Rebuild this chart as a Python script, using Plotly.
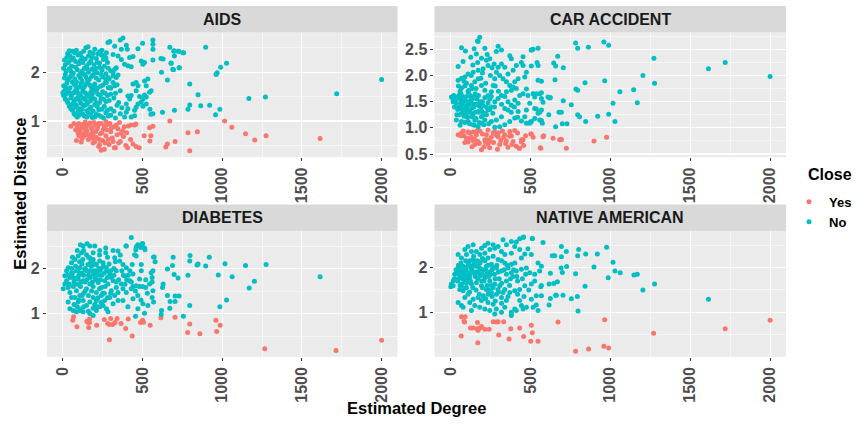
import plotly.graph_objects as go

# ---------------- data (degree, distance) ----------------
PANELS = ["AIDS", "CAR ACCIDENT", "DIABETES", "NATIVE AMERICAN"]
X_TICKS = [0, 500, 1000, 1500, 2000]

AIDS_NO = [
    (60,2.43),(85,2.45),(144,2.50),(158,2.52),(170,2.41),(110,2.38),(40,2.44),(200,2.47),(230,2.42),
    (25,2.30),(45,2.33),(65,2.29),(95,2.35),(120,2.30),(140,2.27),(160,2.33),(185,2.30),(210,2.28),(240,2.36),(255,2.26),(220,2.37),
    (15,2.15),(35,2.20),(55,2.12),(80,2.22),(100,2.17),(125,2.20),(150,2.13),(175,2.23),(195,2.15),(230,2.19),(260,2.12),(280,2.20),(205,2.08),
    (20,2.02),(40,2.07),(65,1.98),(90,2.05),(110,1.97),(135,2.08),(160,2.00),(180,2.06),(215,1.99),(245,2.04),(270,1.97),(300,2.03),
    (10,1.88),(30,1.83),(50,1.92),(75,1.86),(100,1.93),(120,1.82),(145,1.90),(165,1.85),(190,1.94),(225,1.84),(250,1.90),(290,1.86),(315,1.92),
    (5,1.72),(25,1.78),(45,1.68),(70,1.75),(90,1.66),(115,1.77),(135,1.70),(155,1.79),(180,1.68),(200,1.76),(235,1.71),(265,1.78),(300,1.67),(340,1.74),
    (0,1.58),(10,1.62),(20,1.55),(35,1.60),(55,1.52),(80,1.63),(100,1.56),(125,1.61),(150,1.53),(175,1.59),(195,1.64),(220,1.55),(250,1.60),(280,1.52),(330,1.57),(360,1.62),
    (15,1.45),(30,1.38),(50,1.47),(70,1.40),(95,1.48),(115,1.36),(140,1.44),(160,1.39),(185,1.47),(210,1.37),(240,1.45),(270,1.40),(320,1.47),(350,1.38),
    (40,1.30),(60,1.22),(85,1.33),(105,1.25),(130,1.31),(150,1.21),(175,1.28),(200,1.34),(225,1.23),(260,1.30),(300,1.25),(340,1.32),(370,1.27),
    (70,1.15),(90,1.08),(110,1.18),(135,1.10),(160,1.16),(185,1.07),(210,1.14),(240,1.09),(270,1.17),(300,1.12),(330,1.06),(360,1.15),
    (30,2.38),(75,2.40),(130,2.43),(190,2.38),(245,2.45),(10,2.25),(50,2.25),(110,2.24),(165,2.18),(215,2.20),(270,2.27),
    (5,2.08),(50,2.02),(80,2.10),(120,2.02),(150,2.07),(200,2.02),(230,2.10),(285,2.08),
    (15,1.95),(40,1.88),(60,1.95),(85,1.80),(110,1.88),(135,1.95),(155,1.84),(180,1.91),(210,1.88),(240,1.95),(270,1.85),
    (15,1.70),(35,1.66),(60,1.80),(80,1.72),(105,1.70),(125,1.66),(145,1.75),(170,1.73),(190,1.70),(215,1.67),(250,1.73),(285,1.68),
    (5,1.52),(45,1.57),(65,1.58),(90,1.58),(110,1.52),(140,1.58),(165,1.50),(185,1.56),(210,1.61),(235,1.52),(265,1.57),(300,1.55),
    (25,1.42),(60,1.35),(80,1.45),(105,1.42),(125,1.47),(150,1.35),(175,1.42),(200,1.45),(230,1.38),(255,1.45),(290,1.42),
    (50,1.25),(75,1.28),(95,1.20),(120,1.24),(140,1.33),(165,1.24),(190,1.20),(215,1.30),(245,1.24),(280,1.22),(320,1.20),
    (80,1.12),(100,1.12),(125,1.14),(150,1.08),(175,1.12),(200,1.08),(225,1.12),(255,1.06),(285,1.10),
    (377,2.70),(360,2.66),(294,2.63),(283,2.61),(325,2.53),(398,2.55),(404,2.47),(367,2.47),(315,2.36),(346,2.33),(273,2.40),(269,2.30),(248,2.34),
    (471,2.48),(440,2.32),(419,2.30),(367,2.26),(502,2.16),(512,2.20),(492,2.23),(408,2.13),(387,2.16),(429,2.11),(335,2.09),(325,2.06),(315,1.99),
    (346,1.94),(335,1.89),(315,1.79),(325,1.72),(283,1.89),(273,1.79),(294,1.69),
    (440,1.76),(460,1.79),(471,1.72),(512,1.82),(533,1.86),(460,1.62),(429,1.52),(408,1.51),(419,1.45),(481,1.50),(512,1.53),(502,1.45),(523,1.49),
    (492,1.39),(502,1.30),(523,1.35),(544,1.59),(554,1.62),(523,1.72),
    (398,1.35),(408,1.25),(450,1.22),(460,1.28),(471,1.35),(398,1.18),(450,1.11),(429,1.08),(387,1.08),(565,1.15),(700,1.22),
    (696,2.43),(700,2.33),(727,2.43),(752,2.40),(679,2.18),(731,2.09),(690,2.06),
    (2000,1.85),(1718,1.56),(1271,1.49),(1167,1.46),(1027,2.18),(990,2.10),(968,1.99),(962,1.95),(896,2.51),(985,1.24),(958,1.13),(921,1.32),
    (865,1.31),(848,1.54),(796,1.76),(796,1.33),(785,1.24),(758,2.40),(729,2.09),(723,2.43),(698,2.44),(671,2.51),(679,2.19),(694,2.05),
    (656,1.84),(619,2.00),(615,2.28),(629,2.27),(625,1.18),(565,2.66),(565,2.57),(565,2.47),(565,2.25),(500,2.59),(552,1.14),(546,1.24),
]
AIDS_YES = [
    (50,0.89),(80,0.82),(85,0.60),(100,0.95),(110,0.75),(120,0.88),(130,0.68),(140,0.98),(150,0.80),(160,0.62),(165,0.92),(175,0.72),
    (180,0.85),(190,0.55),(195,0.97),(205,0.78),(210,0.66),(220,0.90),(225,0.48),(235,0.74),(240,0.95),(250,0.60),(255,0.83),(260,0.42),
    (270,0.70),(280,0.93),(290,0.52),(300,0.78),(310,0.65),(320,0.88),(330,0.45),(340,0.72),(355,0.97),(360,0.58),(375,0.80),(380,0.68),
    (395,0.50),(410,0.90),(425,0.62),(440,0.53),(450,0.92),(460,0.48),(100,0.70),(130,0.85),(200,0.92),(230,0.62),(270,0.99),(150,0.93),
    (180,0.65),(115,0.57),(240,0.40),(323,0.45),(406,0.45),(479,0.45),(458,0.94),(427,0.92),(510,0.70),
    (70,0.95),(90,0.88),(105,0.82),(125,0.93),(135,0.76),(145,0.86),(155,0.72),(170,0.96),(185,0.78),(195,0.68),(215,0.84),(225,0.95),
    (245,0.76),(260,0.90),(275,0.82),(285,0.62),(295,0.95),(305,0.86),(315,0.58),(335,0.92),(345,0.84),(365,0.75),(385,0.88),(400,0.76),
    (120,0.64),(200,0.58),(230,0.52),(265,0.55),(350,0.55),(95,0.76),
    (1614,0.64),(1275,0.70),(1204,0.61),(1146,0.74),(1060,0.87),(1015,1.00),(844,0.78),(785,0.76),(796,0.39),(704,0.58),(671,1.00),
    (656,0.53),(646,0.47),(565,0.89),(544,0.86),(552,0.70),(546,0.59),
]

CAR_NO = [
    (183,2.73),(169,2.66),(173,2.65),(69,2.53),(94,2.47),(148,2.51),(215,2.52),(298,2.56),(287,2.46),(319,2.49),(371,2.38),(381,2.32),
    (454,2.36),(506,2.49),(548,2.52),
    (48,2.17),(79,2.27),(127,2.35),(162,2.41),(194,2.33),(225,2.29),(246,2.32),(273,2.22),(235,2.19),(204,2.13),(173,2.10),(142,2.06),
    (110,2.03),(90,1.97),(85,1.89),(69,1.76),(48,1.91),(52,1.62),(27,1.59),(6,1.59),(17,1.50),(37,1.47),(58,1.37),(79,1.34),(100,1.28),
    (131,1.21),(152,1.15),(110,1.12),(69,1.12),(37,1.15),(142,1.06),(173,1.02),(194,1.09),(215,1.15),(256,1.12),(287,1.15),(319,1.21),
    (340,1.37),(360,1.34),(381,1.43),(402,1.53),(423,1.47),(433,1.62),(454,1.65),(475,1.74),(412,1.75),(392,1.78),(371,1.81),(350,1.88),
    (329,1.94),(308,2.00),(360,2.03),(392,2.10),(412,2.19),(444,2.25),(454,2.19),(475,2.06),(465,1.97),(423,1.94),(402,1.88),(381,1.72),
    (350,1.69),(319,1.62),(298,1.56),(277,1.50),(256,1.40),(235,1.34),(215,1.28),(194,1.21),(173,1.31),(152,1.43),(131,1.56),(110,1.69),
    (131,1.81),(152,1.88),(173,1.94),(194,1.81),(215,1.72),(235,1.62),(256,1.69),(267,1.81),(277,1.94),(287,2.06),(298,2.16),(319,2.22),
    (340,2.16),(485,1.62),(496,1.47),(527,1.37),(548,1.28),(569,1.34),(475,1.34),(465,1.21),(423,1.31),(402,1.19),(371,1.12),(340,1.06),
    (308,1.02),(277,1.01),(444,1.13),(475,1.09),(506,1.12),(527,1.18),(558,1.15),(527,1.59),(537,1.65),(569,1.56),(610,1.59),
    (60,1.55),(75,1.45),(90,1.52),(105,1.40),(120,1.50),(135,1.38),(150,1.45),(165,1.55),(180,1.42),(100,1.60),(125,1.62),(140,1.25),
    (160,1.18),(85,1.22),(70,1.28),(110,1.33),(95,1.42),(130,1.48),(145,1.58),(175,1.30),(190,1.40),(200,1.50),(55,1.40),(40,1.58),
    (30,1.52),(20,1.62),(115,1.72),(135,1.75),(90,1.80),(155,1.65),(65,1.65),(205,1.25),(225,1.40),(245,1.55),
    (45,1.35),(55,1.25),(65,1.48),(75,1.60),(85,1.52),(95,1.35),(105,1.20),(115,1.45),(125,1.30),(135,1.55),(145,1.40),(155,1.30),
    (165,1.45),(175,1.62),(185,1.50),(195,1.32),(205,1.42),(215,1.58),(225,1.25),(235,1.48),(245,1.35),(255,1.60),(265,1.28),(275,1.40),
    (60,1.05),(90,1.10),(120,1.08),(150,1.05),(180,1.10),(210,1.06),(240,1.08),(100,1.85),(130,2.00),(160,1.75),(190,1.95),(220,1.85),
    (250,2.00),(280,1.80),(300,1.70),(320,1.45),(340,1.60),(360,1.50),(380,1.30),(400,1.40),(420,1.20),(140,2.20),(170,2.25),(200,2.05),
    (230,2.40),(260,2.15),(110,1.50),(80,1.40),(60,1.70),(40,1.25),(25,1.40),(15,1.55),(50,1.80),(70,1.95),
    (2000,1.98),(1719,2.25),(1614,2.13),(1273,2.33),(1277,1.85),(1204,2.00),(1169,1.48),(1146,1.73),(1060,1.69),(1017,1.47),(1029,1.12),
    (990,1.26),(965,1.90),(960,2.64),(990,2.58),(921,1.22),(863,2.54),(842,1.86),(846,1.12),(796,2.52),(783,2.62),(785,1.74),(796,1.72),
    (796,1.25),(808,1.21),(756,1.44),(729,1.08),(700,1.08),(706,1.52),(706,2.15),(671,2.37),(646,2.24),(658,2.18),(654,1.92),(658,1.02),
    (679,1.30),(694,1.30),(621,1.57),(625,1.58),(615,1.25),(575,1.09),(569,1.89),(548,1.91),(517,2.50),(506,2.49),(548,2.19),(542,2.25),
    (506,2.18),(517,1.65),(558,1.65),(569,1.67),(579,1.49),(558,1.30),(537,1.36),(569,1.14),(500,1.11),(496,1.09),
]
CAR_YES = [
    (48,0.87),(65,0.85),(110,0.92),(121,0.80),(131,0.82),(152,0.68),(173,0.74),(194,0.58),(215,0.77),(225,0.87),(235,0.96),(246,0.74),
    (267,0.90),(277,0.93),(298,0.83),(308,0.68),(340,0.87),(350,0.75),(360,0.63),(371,0.93),(392,0.74),(402,0.95),(412,0.65),(433,0.61),
    (444,0.77),(454,0.77),(506,0.88),(517,0.82),(565,0.61),(579,0.83),(642,0.80),(694,0.77),(725,0.61),
    (69,0.90),(79,0.94),(90,0.72),(100,0.80),(110,0.73),(127,0.81),(142,0.92),(152,0.78),(162,0.87),(183,0.94),(219,0.73),(229,0.77),
    (235,0.69),(287,0.86),(294,0.59),(333,0.82),(381,0.85),(429,0.61),(444,0.73),(458,0.66),
    (85,0.85),(120,0.90),(140,0.76),(165,0.94),(180,0.70),(200,0.88),(210,0.64),(255,0.82),(270,0.72),(315,0.76),(325,0.94),(345,0.70),
    (370,0.84),(420,0.90),(135,0.64),(245,0.62),(300,0.90),(470,0.85),(385,0.68),
    (977,0.82),(898,0.75),(692,0.78),(683,0.77),(583,0.85),(562,0.62),(502,0.88),
]

DIAB_NO = [
    (429,2.69),(398,2.50),(460,2.47),(471,2.53),(498,2.55),(512,2.46),(269,2.46),(269,2.35),(231,2.40),(200,2.50),(169,2.50),(152,2.55),
    (110,2.53),(127,2.50),(315,2.40),(346,2.39),(325,2.24),(356,2.17),(377,2.09),(398,2.02),(450,2.31),(460,2.28),(435,2.09),(492,2.09),
    (492,1.95),(569,2.26),(554,1.91),(565,1.95),(560,1.80),(544,1.66),(519,1.58),(565,1.51),(560,1.36),(569,1.26),(533,1.18),(502,1.22),
    (512,1.01),(456,0.94),(471,1.11),(440,1.33),(408,1.15),(377,1.29),(398,1.47),(429,1.55),(460,1.62),(481,1.77),(440,1.88),(419,1.73),
    (387,1.84),(367,1.66),(335,1.58),(315,1.73),(294,1.88),(335,1.95),(273,2.02),(252,2.13),(231,2.17),(210,2.09),(190,2.20),(169,2.24),
    (148,2.31),(117,2.35),(96,2.28),(75,2.20),(54,2.13),(33,2.02),(23,1.95),(12,1.84),(2,1.55),(12,1.66),(23,1.73),(33,1.58),(44,1.47),
    (54,1.36),(33,1.26),(44,1.11),(65,1.07),(85,1.04),(106,1.07),(127,1.04),(169,1.00),(190,0.96),(210,1.07),(231,1.15),(252,1.18),
    (273,1.11),(283,1.04),(262,1.29),(242,1.40),(210,1.47),(190,1.36),(169,1.26),(148,1.18),(127,1.29),(106,1.40),(85,1.51),(75,1.66),
    (96,1.77),(117,1.88),(137,1.99),(158,2.09),(179,1.95),(200,1.80),(221,1.69),(242,1.58),(262,1.73),(283,1.66),(304,1.51),(325,1.40),
    (346,1.29),(294,1.36),(148,1.55),(127,1.73),(169,1.66),(190,1.88),(231,1.95),(106,2.02),(85,1.95),(65,1.80),(54,1.91),(315,1.22),
    (346,1.47),(377,1.55),(210,1.29),(96,1.26),(75,1.36),
    (60,1.90),(80,2.05),(100,1.85),(120,2.10),(140,1.70),(160,1.85),(180,2.05),(200,1.95),(220,1.85),(240,2.00),(260,1.90),(280,1.80),
    (110,1.60),(130,1.45),(150,1.95),(170,1.80),(190,1.60),(210,1.75),(230,1.55),(250,1.45),(70,1.70),(90,1.65),(120,1.90),(175,2.15),
    (205,2.10),(125,2.20),(45,1.80),(300,1.95),(320,1.85),(350,1.75),(370,1.95),(390,1.65),(410,1.85),(430,1.70),(455,1.50),(480,1.60),
    (500,1.60),(530,1.45),(560,1.70),
    (30,1.85),(40,1.65),(55,2.00),(65,1.60),(80,1.78),(95,1.95),(105,2.15),(115,1.70),(130,1.85),(140,2.00),(150,1.75),(160,2.25),
    (170,1.95),(185,1.70),(195,2.10),(210,1.90),(225,2.00),(235,1.75),(245,1.85),(255,2.05),(265,1.60),(275,1.95),(290,2.10),(305,1.80),
    (320,2.00),(335,1.70),(100,1.30),(120,1.40),(140,1.50),(160,1.40),(180,1.50),(200,1.20),(220,1.35),(240,1.25),(260,1.45),(280,1.35),
    (300,1.45),(70,1.20),(90,1.15),(110,1.10),(130,1.15),(160,1.05),(190,1.12),(215,1.15),(60,2.25),(90,2.40),(130,2.40),(190,2.35),
    (230,2.30),(280,2.25),(330,2.15),(360,2.30),(380,1.85),(400,1.75),(420,1.95),(440,1.60),(470,1.40),(490,1.30),(520,1.75),
    (1614,1.82),(1275,2.09),(1202,1.72),(1169,1.57),(1146,2.07),(1062,1.82),(1027,1.30),(1017,2.11),(985,1.15),(975,1.86),(919,2.25),
    (896,2.06),(848,2.10),(842,2.08),(798,2.29),(796,2.17),(796,1.18),(785,1.85),(756,0.94),(729,1.39),(723,1.79),(704,1.39),(698,1.87),
    (692,2.25),(688,2.07),(704,1.27),(671,1.12),(673,1.27),(656,1.40),(656,1.99),(625,1.58),(629,1.66),(617,0.98),(619,1.07),(579,2.15),
    (573,2.26),(515,2.42),(500,2.56),(465,2.50),(458,2.42),(490,2.47),(396,2.50),
]
DIAB_YES = [
    (2000,0.41),(1714,0.18),(1267,0.22),(987,0.74),(960,0.85),(965,0.60),(860,0.55),(796,0.77),(783,0.58),(704,0.92),(615,0.91),
    (548,0.74),(506,0.81),(500,0.85),(487,0.80),(394,0.67),(435,0.50),(410,0.88),(365,0.78),(340,0.89),(327,0.80),(313,0.76),(292,0.76),
    (281,0.78),(300,0.89),(292,0.42),(260,0.87),(212,0.74),(167,0.80),(162,0.69),(156,0.81),(150,0.83),(167,0.88),(88,0.71),(67,0.93),
    (62,0.85),
]

NA_NO = [
    (454,2.67),(433,2.64),(512,2.65),(579,2.56),(329,2.62),(381,2.58),(402,2.47),(412,2.57),(350,2.51),(298,2.47),(267,2.51),(235,2.54),
    (215,2.49),(194,2.43),(142,2.51),(110,2.47),(90,2.40),(48,2.29),(69,2.21),(100,2.29),(131,2.36),(162,2.36),(183,2.29),(215,2.32),
    (246,2.40),(277,2.43),(319,2.36),(340,2.29),(381,2.32),(433,2.40),(485,2.42),(506,2.29),(465,2.30),(444,2.21),(402,2.10),(381,2.07),
    (360,1.99),(340,2.10),(298,2.18),(267,2.25),(235,2.21),(204,2.18),(173,2.14),(142,2.18),(110,2.10),(79,2.03),(48,1.99),(27,1.85),
    (6,1.63),(17,1.70),(37,1.74),(58,1.77),(79,1.85),(100,1.92),(131,1.99),(162,2.03),(194,1.96),(225,2.03),(256,2.07),(287,1.99),
    (319,1.92),(350,1.85),(381,1.88),(412,1.92),(444,1.96),(475,1.99),(496,1.88),(527,1.85),(558,1.92),(569,2.03),(548,2.10),(527,1.70),
    (506,1.63),(465,1.59),(433,1.51),(402,1.48),(371,1.44),(340,1.51),(308,1.59),(277,1.63),(246,1.70),(215,1.77),(183,1.81),(152,1.85),
    (121,1.77),(90,1.70),(69,1.63),(58,1.51),(79,1.48),(100,1.55),(131,1.63),(162,1.66),(194,1.59),(225,1.51),(256,1.44),(287,1.40),
    (319,1.33),(350,1.26),(329,1.44),(298,1.51),(267,1.55),(235,1.40),(204,1.37),(173,1.33),(142,1.29),(110,1.40),(90,1.33),(121,1.22),
    (152,1.15),(183,1.11),(215,1.07),(246,1.04),(267,1.18),(287,1.07),(319,1.00),(340,1.11),(381,1.00),(402,1.07),(433,1.26),(454,1.07),
    (475,1.11),(506,1.29),(537,1.37),(569,1.37),(517,1.11),(548,1.04),(48,1.22),(69,1.15),(79,1.11),(131,1.04),(277,0.96),(381,0.93),
    (412,1.04),(444,1.15),(194,1.26),(235,1.22),(17,1.59),(2,1.57),
    (60,1.95),(80,1.90),(100,2.00),(120,1.85),(140,2.05),(160,1.90),(180,2.00),(200,1.85),(220,1.95),(240,1.80),(260,1.95),(110,1.75),
    (130,1.90),(150,2.10),(170,1.75),(190,1.85),(210,1.70),(230,1.60),(250,1.85),(90,1.80),(70,1.85),(40,1.90),(50,2.05),(120,2.15),
    (200,2.20),(280,1.75),(300,1.90),(320,1.65),(350,1.70),(370,1.60),(390,1.80),(420,1.70),(450,1.75),(470,1.85),
    (25,1.75),(35,1.95),(45,1.70),(55,1.85),(65,2.10),(75,1.75),(85,2.00),(95,2.15),(105,1.85),(115,2.05),(125,1.70),(135,1.95),
    (145,2.25),(155,1.80),(165,2.15),(175,1.90),(185,2.10),(195,1.70),(205,1.95),(215,2.15),(225,1.85),(235,2.05),(245,1.90),(255,1.60),
    (265,2.00),(275,1.85),(290,2.05),(305,1.75),(320,2.15),(335,1.95),(355,2.05),(375,1.75),(395,1.95),(415,1.80),(60,1.60),(80,1.55),
    (100,1.65),(120,1.45),(140,1.55),(160,1.50),(180,1.40),(200,1.55),(220,1.30),(240,1.50),(260,1.35),(280,1.25),(300,1.45),(320,1.20),
    (360,1.35),(420,1.40),(460,1.35),(490,1.50),
    (1614,1.29),(1277,1.63),(1204,1.50),(1169,1.85),(1148,1.83),(1062,1.88),(1029,1.92),(1017,2.12),(987,1.77),(977,2.45),(919,2.30),
    (898,2.01),(842,1.58),(846,2.30),(802,2.40),(796,2.26),(794,1.35),(798,1.03),(783,1.86),(756,1.30),(725,2.36),(727,2.02),(704,1.38),
    (700,1.89),(694,2.47),(694,2.24),(692,1.99),(669,1.68),(662,1.38),(652,2.26),(637,2.26),(658,1.38),(625,1.31),(646,1.64),(617,1.63),
    (625,1.87),(617,1.16),(512,2.65),(458,2.68),(569,1.60),(565,1.57),(537,1.16),
]
NA_YES = [
    (2000,0.82),(1719,0.63),(1271,0.53),(965,0.83),(990,0.20),(960,0.24),(864,0.18),(783,0.13),(673,0.78),(548,0.35),(512,0.54),
    (506,0.71),(502,0.35),(458,0.46),(433,0.65),(377,0.63),(367,0.40),(333,0.79),(302,0.49),(298,0.79),(287,0.78),(267,0.79),(242,0.62),
    (215,0.62),(194,0.68),(183,0.65),(173,0.60),(167,0.63),(142,0.65),(125,0.65),(169,0.77),(171,0.32),(88,0.78),(92,0.90),(67,0.47),
    (69,0.90),(85,0.80),
]

YES_DATA = [AIDS_YES, CAR_YES, DIAB_YES, NA_YES]
NO_DATA = [AIDS_NO, CAR_NO, DIAB_NO, NA_NO]
Y_RANGES = [[0.26, 2.81], [0.44, 2.82], [0.04, 2.83], [0.005, 2.81]]
Y_MAJOR = [[1, 2], [0.5, 1.0, 1.5, 2.0, 2.5], [1, 2], [1, 2]]
Y_MINOR = [[0.5, 1.5, 2.5], [0.75, 1.25, 1.75, 2.25, 2.75], [0.5, 1.5, 2.5], [0.5, 1.5, 2.5]]

# ---------------- layout geometry (pixels) ----------------
W, H = 857, 427
FONT = "Liberation Sans, Arial, sans-serif"
PANEL_PX = [(47, 398, 33, 159), (435, 787, 33, 159), (47, 398, 234, 361), (435, 787, 234, 361)]
STRIP_H = 27
YES_COL, NO_COL = "#F8766D", "#00BFC4"

fig = go.Figure()
layout = dict(
    width=W, height=H, margin=dict(l=0, r=0, t=0, b=0),
    paper_bgcolor="white", plot_bgcolor="#EBEBEB",
    font=dict(family=FONT), shapes=[], annotations=[],
)

tickfont = dict(family=FONT, size=16, color="#4D4D4D", weight="bold")
for i, name in enumerate(PANELS):
    x0, x1, y0, y1 = PANEL_PX[i]
    sfx = "" if i == 0 else str(i + 1)
    xa, ya = "x" + sfx, "y" + sfx
    layout["xaxis" + sfx] = dict(
        domain=[x0 / W, x1 / W], range=[-100, 2100], anchor=ya,
        tickvals=X_TICKS, ticktext=[str(v) for v in X_TICKS], tickangle=-90,
        showgrid=True, gridcolor="white", gridwidth=1.1, zeroline=False,
        ticks="outside", ticklen=3, tickwidth=1, tickcolor="#333333", tickfont=tickfont,
        minor=dict(tickvals=[250, 750, 1250, 1750], showgrid=True, gridcolor="white", gridwidth=0.55, ticks=""),
        showline=False, fixedrange=True,
    )
    layout["yaxis" + sfx] = dict(
        domain=[1 - y1 / H, 1 - y0 / H], range=Y_RANGES[i], anchor=xa,
        tickvals=Y_MAJOR[i], ticktext=[("%.1f" % v) if i == 1 else str(int(v)) for v in Y_MAJOR[i]],
        showgrid=True, gridcolor="white", gridwidth=1.1, zeroline=False,
        ticks="outside", ticklen=3, tickwidth=1, tickcolor="#333333", tickfont=tickfont,
        minor=dict(tickvals=Y_MINOR[i], showgrid=True, gridcolor="white", gridwidth=0.55, ticks=""),
        showline=False, fixedrange=True,
    )
    # facet strip
    layout["shapes"].append(dict(type="rect", xref="paper", yref="paper",
                                 x0=x0 / W, x1=x1 / W, y0=1 - y0 / H, y1=1 - (y0 - STRIP_H) / H,
                                 fillcolor="#D9D9D9", line=dict(width=0), layer="below"))
    layout["annotations"].append(dict(text="<b>%s</b>" % name, xref="paper", yref="paper",
                                      x=(x0 + x1) / 2 / W, y=1 - (y0 - STRIP_H / 2) / H,
                                      showarrow=False, xanchor="center", yanchor="middle",
                                      font=dict(family=FONT, size=16, color="#1A1A1A")))
    for label, data, col in (("Yes", YES_DATA[i], YES_COL), ("No", NO_DATA[i], NO_COL)):
        fig.add_trace(go.Scatter(
            x=[p[0] for p in data], y=[p[1] for p in data], mode="markers",
            marker=dict(color=col, size=5, line=dict(width=0)),
            name=label, legendgroup=label, showlegend=(i == 0),
            xaxis=xa, yaxis=ya, hoverinfo="skip",
        ))

layout["annotations"].append(dict(text="<b>Estimated Degree</b>", xref="paper", yref="paper",
                                  x=417 / W, y=1 - 413 / H, showarrow=False,
                                  xanchor="center", yanchor="middle",
                                  font=dict(family=FONT, size=16.5, color="black")))
layout["annotations"].append(dict(text="<b>Estimated Distance</b>", xref="paper", yref="paper",
                                  x=20 / W, y=1 - 196 / H, showarrow=False, textangle=-90,
                                  xanchor="center", yanchor="middle",
                                  font=dict(family=FONT, size=16.5, color="black")))
# legend title
layout["annotations"].append(dict(text="<b>Close</b>", xref="paper", yref="paper",
                                  x=807 / W, y=1 - 177 / H, showarrow=False,
                                  xanchor="left", yanchor="middle",
                                  font=dict(family=FONT, size=16, color="black")))
layout["legend"] = dict(
    x=790 / W, y=1 - 189 / H, xanchor="left", yanchor="top",
    font=dict(family=FONT, size=13, color="black", weight="bold"),
    bgcolor="rgba(0,0,0,0)", tracegroupgap=0, itemwidth=30,
)
fig.update_layout(**layout)
fig.write_html("out.html", config={"displayModeBar": False, "staticPlot": True},
               post_script="document.body.style.margin='0';document.body.style.padding='0';"
                           "document.documentElement.style.overflow='hidden';")
